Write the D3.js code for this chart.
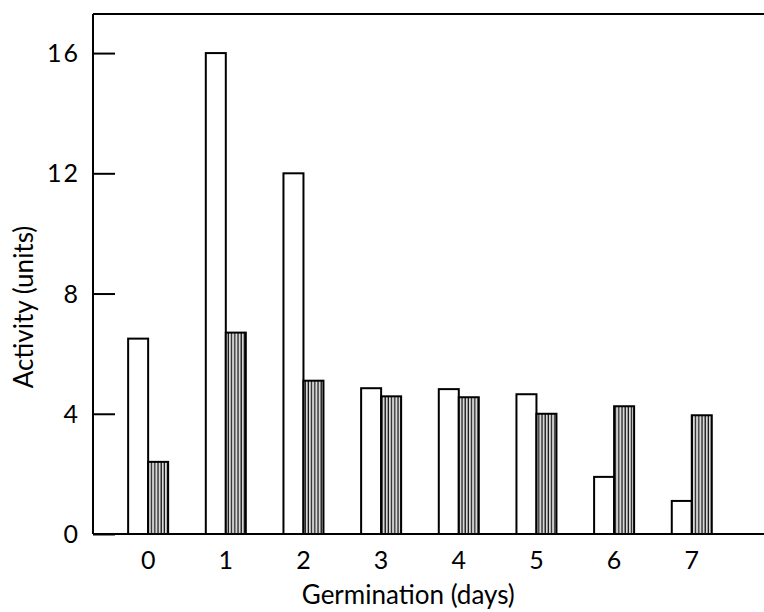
<!DOCTYPE html>
<html>
<head>
<meta charset="utf-8">
<script src="https://cdn.jsdelivr.net/npm/d3@7"></script>
<style>
  body { margin: 0; background: white; }
  text { font-family: Lato, "DejaVu Sans", sans-serif; fill: black; }
</style>
</head>
<body>
<div id="chart"></div>
<script>
const days = [0, 1, 2, 3, 4, 5, 6, 7]
const openBars = [6.5, 16, 12, 4.85, 4.82, 4.65, 1.9, 1.1]
const hatchedBars = [2.4, 6.7, 5.1, 4.58, 4.55, 4.0, 4.25, 3.95]
const yTicks = [0, 4, 8, 12, 16]

const margin = {top:14, right:0, bottom:78, left:93},
  width = 764 - margin.left - margin.right,
  height = 612 - margin.top - margin.bottom;
const x = d3.scaleLinear().domain([-0.71, 7.93]).range([0, width])
const y = d3.scaleLinear().domain([0, 17.3]).range([height, 0])
const barW = 20

const root = d3.select("#chart")
  .append("svg")
    .attr("width", width + margin.left + margin.right)
    .attr("height", height + margin.top + margin.bottom)

// vertical line hatching
const pat = root.append("defs")
  .append("pattern")
    .attr("id", "hatch")
    .attr("patternUnits", "userSpaceOnUse")
    .attr("width", 3.2)
    .attr("height", 10)
pat.append("rect")
  .attr("width", 3.2).attr("height", 10)
  .attr("fill", "#d8d8d8")
pat.append("line")
  .attr("x1", 1).attr("x2", 1)
  .attr("y1", 0).attr("y2", 10)
  .style("stroke", "#111")
  .style("stroke-width", 1.2)

const svg = root.append("g")
  .attr("transform", "translate(" + margin.left + "," + margin.top + ")")

//y axis with inward ticks
svg.append("g")
  .call(d3.axisRight(y)
    .tickValues(yTicks)
    .tickSize(22)
    .tickFormat(''))
  .call(g => g.select(".domain").remove())
  .selectAll("line")
    .style("stroke", "black")
    .style("stroke-width", 2)
svg.selectAll(null)
  .data(yTicks)
  .enter()
  .append("text")
    .attr("x", -13)
    .attr("y", d => y(d))
    .attr("dy", "0.36em")
    .attr("text-anchor", "end")
    .style("font-size", "25px")
    .style("letter-spacing", "2px")
    .text(d => d)

// frame: left, top, bottom
svg.append("line")
  .attr("x1", 0).attr("x2", 0)
  .attr("y1", 0).attr("y2", height)
  .style("stroke", "black").style("stroke-width", 2)
svg.append("line")
  .attr("x1", 0).attr("x2", width)
  .attr("y1", 0).attr("y2", 0)
  .style("stroke", "black").style("stroke-width", 2)

//bars
svg.selectAll(null)
  .data(days)
  .enter()
  .append("rect")
    .attr("x", d => x(d) - barW)
    .attr("y", (d, i) => y(openBars[i]))
    .attr("width", barW)
    .attr("height", (d, i) => height - y(openBars[i]))
    .style("fill", "white")
    .style("stroke", "black")
    .style("stroke-width", 2)
svg.selectAll(null)
  .data(days)
  .enter()
  .append("rect")
    .attr("x", d => x(d))
    .attr("y", (d, i) => y(hatchedBars[i]))
    .attr("width", barW)
    .attr("height", (d, i) => height - y(hatchedBars[i]))
    .style("fill", "url(#hatch)")
    .style("stroke", "black")
    .style("stroke-width", 2)

//x axis
svg.append("line")
  .attr("x1", 0).attr("x2", width)
  .attr("y1", height).attr("y2", height)
  .style("stroke", "black").style("stroke-width", 2)
svg.selectAll(null)
  .data(days)
  .enter()
  .append("text")
    .attr("x", d => x(d))
    .attr("y", height + 26)
    .attr("dy", "0.36em")
    .attr("text-anchor", "middle")
    .style("font-size", "25px")
    .text(d => d)

svg.append("text")
  .attr("x", x(3.35))
  .attr("y", height + 70)
  .attr("text-anchor", "middle")
  .style("font-size", "26px")
  .text("Germination (days)")
svg.append("text")
  .attr("transform", "rotate(-90)")
  .attr("x", -(307 - margin.top))
  .attr("y", -60)
  .attr("text-anchor", "middle")
  .style("font-size", "26px")
  .text("Activity (units)")
</script>
</body>
</html>
